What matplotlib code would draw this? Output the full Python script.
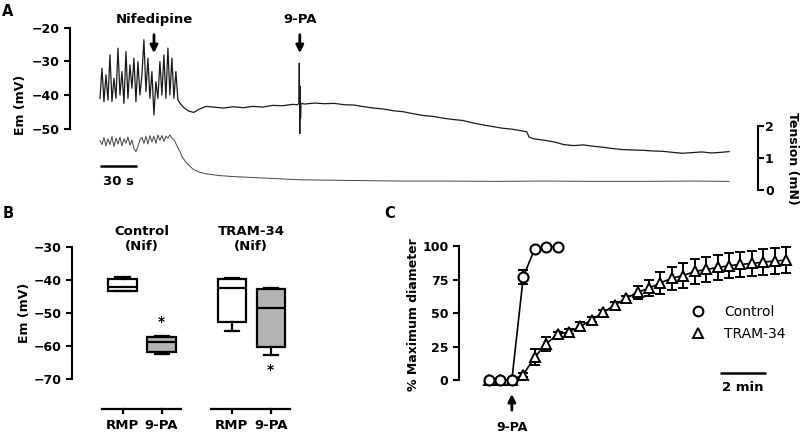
import numpy as np
import matplotlib
matplotlib.use('Agg')
import matplotlib.pyplot as plt
from matplotlib.lines import Line2D

plt.rcParams['font.family'] = ['DejaVu Sans']
plt.rcParams['font.weight'] = 'bold'
plt.rcParams['axes.labelweight'] = 'bold'
plt.rcParams['axes.linewidth'] = 1.5

W, H = 800, 441

# ---------------- Panel A data ----------------
osc_dt = 1.62  # s between samples in the oscillating part
osc_em = [-41, -32, -42, -34, -41.5, -28, -42, -35, -41, -26,
          -40, -33, -42.5, -27, -41, -31, -38, -29, -42, -30,
          -40, -34, -23.5, -39, -29, -41, -33, -46, -36, -41,
          -30, -40, -28, -41, -26, -40, -29, -41, -33, -41.5]
osc_ten = [1.55, 1.42, 1.64, 1.38, 1.60, 1.42, 1.67, 1.36, 1.62, 1.44,
           1.65, 1.38, 1.60, 1.46, 1.66, 1.40, 1.56, 1.30, 1.20, 1.36,
           1.57, 1.65, 1.46, 1.68, 1.44, 1.70, 1.50, 1.68, 1.46, 1.72,
           1.55, 1.70, 1.52, 1.68, 1.62, 1.72, 1.62, 1.58, 1.45, 1.32]

slow_t = [65, 68, 72, 76, 80, 86, 92, 100, 108, 116, 124, 132, 140, 148,
          156, 160, 161.3, 161.6, 162.0, 162.3, 162.6, 163.0, 166, 174, 182,
          190, 198, 206, 214, 222, 230, 238, 246, 254, 262, 270, 278, 286,
          294, 302, 310, 318, 326, 334, 342, 346, 348, 352, 360, 368, 376,
          384, 392, 400, 408, 416, 424, 432, 440, 448, 456, 464, 472, 480,
          488, 496, 504, 510]
slow_em = [-42.5, -43.8, -44.8, -45.2, -44.3, -43.4, -43.6, -43.9, -43.5,
           -43.8, -43.4, -43.6, -43.1, -43.2, -42.8, -42.9, -42.5, -30.5,
           -51.5, -37.5, -47.0, -42.5, -42.7, -42.4, -42.6, -42.5, -42.9,
           -43.0, -43.5, -43.9, -44.2, -44.7, -45.0, -45.6, -46.1, -46.4,
           -46.9, -47.3, -47.6, -48.3, -48.9, -49.4, -49.9, -50.2, -50.7,
           -51.0, -52.6, -53.1, -53.5, -54.0, -54.8, -55.1, -54.9, -55.3,
           -55.6, -56.0, -56.3, -56.4, -56.5, -56.7, -56.8, -57.1, -57.4,
           -57.2, -57.0, -57.3, -57.1, -56.9]

ten_slow_t = [65, 66.5, 70.5, 75.5, 81, 87, 97, 108, 130, 162, 200, 243,
              280, 320, 360, 400, 440, 480, 510]
ten_slow = [1.2, 1.04, 0.83, 0.65, 0.55, 0.5, 0.45, 0.42, 0.38, 0.32, 0.30,
            0.28, 0.28, 0.27, 0.28, 0.27, 0.27, 0.28, 0.27]

events = ['Nifedipine', '9-PA']
event_t = [43.8, 162.0]

# ---------------- Panel B data ----------------
b_groups = ['Control\n(Nif)', 'TRAM-34\n(Nif)']
b_labels = ['RMP', '9-PA', 'RMP', '9-PA']
b_whislo = [-43.5, -62.5, -55.5, -62.7]
b_q1 = [-43.5, -61.7, -52.8, -60.2]
b_med = [-42.2, -58.7, -42.5, -48.5]
b_q3 = [-39.7, -57.2, -39.7, -42.7]
b_whishi = [-39.0, -56.8, -39.5, -42.5]
b_sig = [False, True, False, True]

# ---------------- Panel C data ----------------
c_time = [-1.0, -0.5, 0.0, 0.5, 1.0, 1.5, 2.0]
c_ctrl = [0, 0, 0, 77, 98, 99.5, 99.5]
c_ctrl_err = [0, 0, 0, 5, 1, 0.5, 0.5]
t_time = [-1.0, -0.5, 0.0, 0.5, 1.0, 1.5, 2.0, 2.5, 3.0, 3.5, 4.0, 4.5,
          5.0, 5.5, 6.0, 6.5, 7.0, 7.5, 8.0, 8.5, 9.0, 9.5, 10.0, 10.5,
          11.0, 11.5, 12.0]
t_tram = [0, 0, 0, 4, 17, 27, 34, 36, 40, 45, 50.5, 56, 61, 65.5, 68.5,
          72.5, 76, 78, 81, 82.5, 84, 85.3, 86.3, 87, 88, 88.8, 89.5]
t_tram_err = [0, 0, 0, 1.5, 6, 5, 2, 2, 3, 2, 2, 2, 2, 5, 6, 8, 8.5, 9,
              9, 9, 9.5, 9.5, 9.5, 9.5, 9.5, 9.5, 9.5]
c_yticks = [0, 25, 50, 75, 100]


def rect(x0, y0, x1, y1):
    return [x0 / W, 1 - y1 / H, (x1 - x0) / W, (y1 - y0) / H]


fig = plt.figure(figsize=(8, 4.41), dpi=100)
FS = 9

# ================= Panel A =================
axA = fig.add_axes(rect(70, 15, 758, 195))
osc_t = np.arange(len(osc_em)) * osc_dt
axA.plot(list(osc_t) + slow_t, osc_em + slow_em, color='#1a1a1a', lw=0.9)
axA.set_xlim(-24.3, 533.5)
axA.set_ylim(-69.85, -16.12)
for s in ['top', 'right', 'bottom']:
    axA.spines[s].set_visible(False)
axA.spines['left'].set_bounds(-50, -20)
axA.set_yticks([-50, -40, -30, -20])
axA.set_xticks([])
axA.tick_params(axis='y', labelsize=FS, width=1.5, length=4)
axA.set_ylabel('Em (mV)', fontsize=FS, labelpad=3)

axT = axA.twinx()
axT.plot(list(osc_t) + ten_slow_t, osc_ten + ten_slow, color='#444444', lw=0.7)
axT.set_ylim(-0.156, 5.47)
for s in ['top', 'left', 'bottom']:
    axT.spines[s].set_visible(False)
axT.spines['right'].set_bounds(0, 2)
axT.set_yticks([0, 1, 2])
axT.tick_params(axis='y', labelsize=FS, width=1.5, length=4, pad=1)
fig.text(793 / W, 1 - 158 / H, 'Tension (mN)', rotation=-90, ha='center',
         va='center', fontsize=FS)

for name, t in zip(events, event_t):
    axA.annotate('', xy=(t, -27.5), xytext=(t, -22.0),
                 arrowprops=dict(arrowstyle='-|>', color='k', lw=2,
                                 mutation_scale=11, shrinkA=0, shrinkB=0),
                 annotation_clip=False)
    axA.text(t, -17.4, name, ha='center', va='center', fontsize=FS + 0.5,
             clip_on=False)

axA.plot([0, 30], [-61.2, -61.2], color='k', lw=1.8, solid_capstyle='butt')
axA.text(15, -65.8, '30 s', ha='center', va='center', fontsize=FS + 0.5)

# ================= Panel B =================
axB = fig.add_axes(rect(72, 236, 300, 390))
b_pos = [1, 2, 3.8, 4.8]
stats = []
for i in range(4):
    stats.append(dict(med=b_med[i], q1=b_q1[i], q3=b_q3[i],
                      whislo=b_whislo[i], whishi=b_whishi[i], fliers=[]))
bp = axB.bxp(stats, positions=b_pos, widths=0.72, capwidths=0.36,
             patch_artist=True, showfliers=False,
             boxprops=dict(linewidth=1.6, edgecolor='k'),
             medianprops=dict(color='k', linewidth=1.6),
             whiskerprops=dict(color='k', linewidth=1.6),
             capprops=dict(color='k', linewidth=1.6))
fills = ['white', '#b3b3b3', 'white', '#b3b3b3']
for patch, fc in zip(bp['boxes'], fills):
    patch.set_facecolor(fc)
for i, sig in enumerate(b_sig):
    if sig:
        if i == 1:
            axB.text(b_pos[i], b_whishi[i] + 4.0, '*', ha='center',
                     va='center', fontsize=FS + 1)
        else:
            axB.text(b_pos[i], b_whislo[i] - 4.6, '*', ha='center',
                     va='center', fontsize=FS + 1)

axB.set_xlim(-0.295, 5.55)
axB.set_ylim(-73.23, -26.77)
for s in ['top', 'right', 'bottom']:
    axB.spines[s].set_visible(False)
axB.spines['left'].set_bounds(-70, -30)
axB.set_yticks([-70, -60, -50, -40, -30])
axB.set_xticks([])
axB.tick_params(axis='y', labelsize=FS, width=1.5, length=4)
axB.set_ylabel('Em (mV)', fontsize=FS, labelpad=2)

line_y = -79.0
for g in range(2):
    p0, p1 = b_pos[2 * g], b_pos[2 * g + 1]
    axB.plot([p0 - 0.52, p1 + 0.5], [line_y, line_y], color='k', lw=1.6,
             clip_on=False)
    for p, lab in zip([p0, p1], b_labels[2 * g:2 * g + 2]):
        axB.plot([p, p], [line_y, line_y - 1.1], color='k', lw=1.6,
                 clip_on=False)
        axB.text(p, line_y - 4.8, lab, ha='center', va='center',
                 fontsize=FS + 0.5, clip_on=False)
    axB.text((p0 + p1) / 2, -27.6, b_groups[g], ha='center', va='center',
             fontsize=FS + 0.5, linespacing=1.25, clip_on=False)

# ================= Panel C =================
axC = fig.add_axes(rect(459, 240, 795, 390))
axC.errorbar(t_time, t_tram, yerr=t_tram_err, fmt='-^', color='k',
             mfc='white', mec='k', ms=6.5, mew=1.4, lw=1.2, capsize=3.5,
             capthick=1.4, elinewidth=1.4, zorder=2)
axC.errorbar(c_time, c_ctrl, yerr=c_ctrl_err, fmt='-o', color='k',
             mfc='white', mec='k', ms=7.2, mew=1.5, lw=1.2, capsize=3.5,
             capthick=1.4, elinewidth=1.4, zorder=3)
axC.set_xlim(-2.312, 12.386)
axC.set_ylim(-7.46, 104.5)
for s in ['top', 'right', 'bottom']:
    axC.spines[s].set_visible(False)
axC.spines['left'].set_bounds(0, 100)
axC.set_yticks(c_yticks)
axC.set_xticks([])
axC.tick_params(axis='y', labelsize=FS, width=1.5, length=4)
axC.set_ylabel('% Maximum diameter', fontsize=FS, labelpad=2)

axC.annotate('', xy=(0, -10.4), xytext=(0, -22.5),
             arrowprops=dict(arrowstyle='-|>', color='k', lw=2,
                             mutation_scale=11, shrinkA=0, shrinkB=0),
             annotation_clip=False)
axC.text(0, -35.8, '9-PA', ha='center', va='center', fontsize=FS,
         clip_on=False)
axC.plot([9.1, 11.1], [5.2, 5.2], color='k', lw=1.8, solid_capstyle='butt')
axC.text(10.1, -5.4, '2 min', ha='center', va='center', fontsize=FS + 0.5,
         clip_on=False)

handles = [Line2D([], [], marker='o', ls='none', mfc='white', mec='k',
                  ms=7, mew=1.5),
           Line2D([], [], marker='^', ls='none', mfc='white', mec='k',
                  ms=6.5, mew=1.4)]
fig.legend(handles, ['Control', 'TRAM-34'], loc='upper left',
           bbox_to_anchor=(691 / W, 1 - 305 / H), frameon=False,
           borderpad=0, borderaxespad=0, handlelength=1.0,
           handletextpad=1.4, labelspacing=0.55,
           prop=dict(size=10, weight='normal'))

# panel letters
fig.text(8 / W, 1 - 12 / H, 'A', ha='center', va='center', fontsize=10.5)
fig.text(8 / W, 1 - 214 / H, 'B', ha='center', va='center', fontsize=10.5)
fig.text(390 / W, 1 - 214 / H, 'C', ha='center', va='center', fontsize=10.5)

fig.savefig('out.png', dpi=100)
